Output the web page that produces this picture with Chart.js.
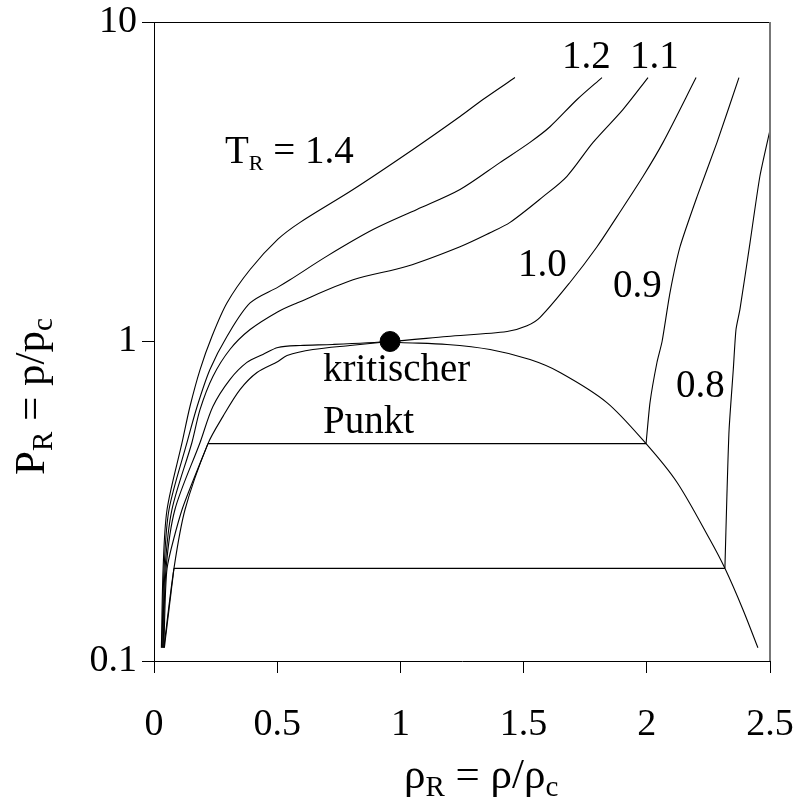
<!DOCTYPE html>
<html>
<head>
<meta charset="utf-8">
<title>Isothermen im reduzierten p-rho-Diagramm</title>
<script src="https://cdn.jsdelivr.net/npm/chart.js@4.4.1/dist/chart.umd.min.js"></script>
<style>
  html, body { margin: 0; padding: 0; background: #fff; }
  canvas { display: block; }
</style>
</head>
<body>
<canvas id="chart" width="798" height="800"></canvas>
<script>
// Achsen-Ticks
const rhoTicks = [0, 0.5, 1, 1.5, 2, 2.5];
const pTicks = [0.1, 1, 10];

// Isothermen T_R = 1.4 ... 1.0 (reduzierte Dichte / reduzierter Druck)
const t14Rho = [0.030, 0.037, 0.053, 0.114, 0.146, 0.187, 0.235, 0.296, 0.390, 0.503, 0.593, 0.808, 1.051, 1.242, 1.335, 1.465];
const t14P   = [0.110, 0.195, 0.298, 0.483, 0.626, 0.817, 1.037, 1.32, 1.68, 2.09, 2.36, 2.99, 3.99, 5.06, 5.72, 6.70];

const t12Rho = [0.032, 0.041, 0.061, 0.134, 0.175, 0.227, 0.296, 0.390, 0.503, 0.552, 0.702, 0.889, 1.067, 1.242, 1.404, 1.526, 1.607, 1.717, 1.818];
const t12P   = [0.110, 0.195, 0.298, 0.483, 0.626, 0.817, 1.037, 1.32, 1.48, 1.56, 1.85, 2.24, 2.59, 2.99, 3.63, 4.20, 4.70, 5.72, 6.70];

const t11Rho = [0.035, 0.045, 0.073, 0.154, 0.187, 0.239, 0.308, 0.390, 0.503, 0.580, 0.808, 1.027, 1.242, 1.364, 1.445, 1.579, 1.676, 1.782, 1.903, 2.005];
const t11P   = [0.110, 0.195, 0.298, 0.483, 0.613, 0.777, 0.944, 1.09, 1.24, 1.32, 1.56, 1.72, 1.98, 2.19, 2.36, 2.84, 3.29, 4.20, 5.32, 6.70];

const t10Rho = [0.037, 0.049, 0.085, 0.187, 0.239, 0.308, 0.377, 0.442, 0.503, 0.593, 0.726, 0.958, 1.189, 1.433, 1.514, 1.567, 1.688, 1.798, 1.879, 1.985, 2.066, 2.200];
const t10P   = [0.110, 0.195, 0.298, 0.483, 0.626, 0.760, 0.860, 0.911, 0.958, 0.972, 0.979, 1.0, 1.037, 1.075, 1.12, 1.19, 1.53, 1.98, 2.46, 3.29, 4.20, 6.70];

// T_R = 0.9: Dampfast, Konode, Fluessigkeitsast
const t09VapRho = [0.040, 0.053, 0.114, 0.219];
const t09VapP   = [0.110, 0.195, 0.298, 0.479];
const t09TieRho = [0.219, 1.997];
const t09TieP   = [0.479, 0.479];
const t09LiqRho = [1.997, 2.013, 2.041, 2.062, 2.094, 2.135, 2.204, 2.285, 2.374];
const t09LiqP   = [0.479, 0.644, 0.858, 1.0, 1.42, 1.98, 2.84, 4.20, 6.70];

// T_R = 0.8
const t08VapRho = [0.042, 0.081];
const t08VapP   = [0.110, 0.195];
const t08TieRho = [0.081, 2.317];
const t08TieP   = [0.195, 0.195];
const t08LiqRho = [2.317, 2.325, 2.334, 2.351, 2.362, 2.378, 2.419, 2.459, 2.503];
const t08LiqP   = [0.195, 0.327, 0.530, 0.817, 1.09, 1.26, 2.04, 3.29, 4.70];

// Phasengrenzkurve (Nassdampfgebiet)
const domeRho = [0.040, 0.081, 0.126, 0.219, 0.280, 0.349, 0.418, 0.503, 0.540, 0.645, 0.795, 0.917, 0.958, 0.998, 1.189, 1.364, 1.526, 1.648, 1.838, 1.997, 2.123, 2.256, 2.317, 2.390, 2.451];
const domeP   = [0.110, 0.195, 0.298, 0.479, 0.583, 0.707, 0.800, 0.866, 0.904, 0.944, 0.972, 0.993, 1.0, 0.993, 0.979, 0.944, 0.878, 0.800, 0.644, 0.479, 0.362, 0.240, 0.195, 0.145, 0.110];

// kritischer Punkt
const critRho = [0.958];
const critP   = [1.0];

// Beschriftungen im Diagramm (Lage in Datenkoordinaten, linke Kante / Grundlinie)
const curveLabels = [
  { parts: [['T', 0], ['R', 1], [' = 1.4', 0]], rho: 0.288, p: 3.63 },
  { parts: [['1.2', 0]], rho: 1.656, p: 7.20 },
  { parts: [['1.1', 0]], rho: 1.932, p: 7.20 },
  { parts: [['1.0', 0]], rho: 1.477, p: 1.60 },
  { parts: [['0.9', 0]], rho: 1.863, p: 1.383 },
  { parts: [['0.8', 0]], rho: 2.119, p: 0.668 },
  { parts: [['kritischer', 0]], rho: 0.686, p: 0.750 },
  { parts: [['Punkt', 0]], rho: 0.686, p: 0.519 }
];

const FONT = 'Liberation Serif';

function pts(xs, ys) {
  return xs.map((v, i) => ({ x: v, y: ys[i] }));
}

function line(xs, ys, tension) {
  return {
    data: pts(xs, ys),
    borderColor: '#000',
    borderWidth: 1.1,
    pointRadius: 0,
    tension: tension,
    fill: false
  };
}

// Text mit tiefgestellten Teilen zeichnen
function drawSub(ctx, parts, x0, y0, size, subSize, shift) {
  let cx = x0;
  parts.forEach(([txt, sub]) => {
    ctx.font = `${sub ? subSize : size}px "${FONT}"`;
    ctx.fillText(txt, cx, y0 + (sub ? shift : 0));
    cx += ctx.measureText(txt).width;
  });
}

const annotate = {
  id: 'annotate',
  afterDatasetsDraw(chart) {
    const { ctx, chartArea: a, scales: { x, y } } = chart;
    ctx.save();
    // Rahmen oben und rechts
    ctx.strokeStyle = '#000';
    ctx.lineWidth = 1;
    ctx.beginPath();
    ctx.moveTo(a.left, a.top + 0.5);
    ctx.lineTo(a.right, a.top + 0.5);
    ctx.stroke();
    ctx.strokeStyle = '#777';
    ctx.lineWidth = 2;
    ctx.beginPath();
    ctx.moveTo(a.right, a.top);
    ctx.lineTo(a.right, a.bottom);
    ctx.stroke();

    ctx.fillStyle = '#000';
    ctx.textBaseline = 'alphabetic';
    ctx.textAlign = 'left';
    curveLabels.forEach(l => {
      drawSub(ctx, l.parts, x.getPixelForValue(l.rho), y.getPixelForValue(l.p), 39, 22, 7);
    });

    // Achsentitel
    drawSub(ctx, [['\u03C1', 0], ['R', 1], [' = \u03C1/\u03C1', 0], ['c', 1]], 404, 788, 43, 29, 8);
    ctx.translate(44, 475);
    ctx.rotate(-Math.PI / 2);
    drawSub(ctx, [['P', 0], ['R', 1], [' = p/p', 0], ['c', 1]], 0, 0, 43, 29, 8);
    ctx.restore();
  }
};

new Chart(document.getElementById('chart'), {
  type: 'line',
  data: {
    datasets: [
      line(t14Rho, t14P, 0.3),
      line(t12Rho, t12P, 0.3),
      line(t11Rho, t11P, 0.3),
      line(t10Rho, t10P, 0.3),
      line(t09VapRho, t09VapP, 0.2),
      line(t09TieRho, t09TieP, 0),
      line(t09LiqRho, t09LiqP, 0.2),
      line(t08VapRho, t08VapP, 0),
      line(t08TieRho, t08TieP, 0),
      line(t08LiqRho, t08LiqP, 0.2),
      line(domeRho, domeP, 0.3),
      {
        data: pts(critRho, critP),
        showLine: false,
        pointRadius: 10,
        pointBackgroundColor: '#000',
        pointBorderColor: '#000'
      }
    ]
  },
  options: {
    responsive: false,
    animation: false,
    layout: { padding: { top: 22, right: 28, left: 0, bottom: 0 } },
    plugins: {
      legend: { display: false },
      tooltip: { enabled: false }
    },
    scales: {
      x: {
        type: 'linear',
        min: 0,
        max: 2.5,
        afterBuildTicks: s => { s.ticks = rhoTicks.map(v => ({ value: v })); },
        afterFit: s => { s.height = 139; s.paddingLeft = 0; s.paddingRight = 0; },
        grid: { drawOnChartArea: false, drawTicks: true, tickLength: 12, color: '#000', lineWidth: 1 },
        border: { display: true, color: '#000', width: 1 },
        ticks: {
          color: '#000',
          font: { family: FONT, size: 38, lineHeight: 1 },
          padding: 33,
          maxRotation: 0,
          callback: v => String(v)
        }
      },
      y: {
        type: 'logarithmic',
        min: 0.1,
        max: 10,
        afterBuildTicks: s => { s.ticks = pTicks.map(v => ({ value: v })); },
        afterFit: s => { s.width = 154; s.paddingTop = 0; s.paddingBottom = 0; },
        grid: { drawOnChartArea: false, drawTicks: true, tickLength: 12, color: '#000', lineWidth: 1 },
        border: { display: true, color: '#000', width: 1 },
        ticks: {
          color: '#000',
          font: { family: FONT, size: 38, lineHeight: 1 },
          padding: 5,
          callback: v => String(v)
        }
      }
    }
  },
  plugins: [annotate]
});
</script>
</body>
</html>
